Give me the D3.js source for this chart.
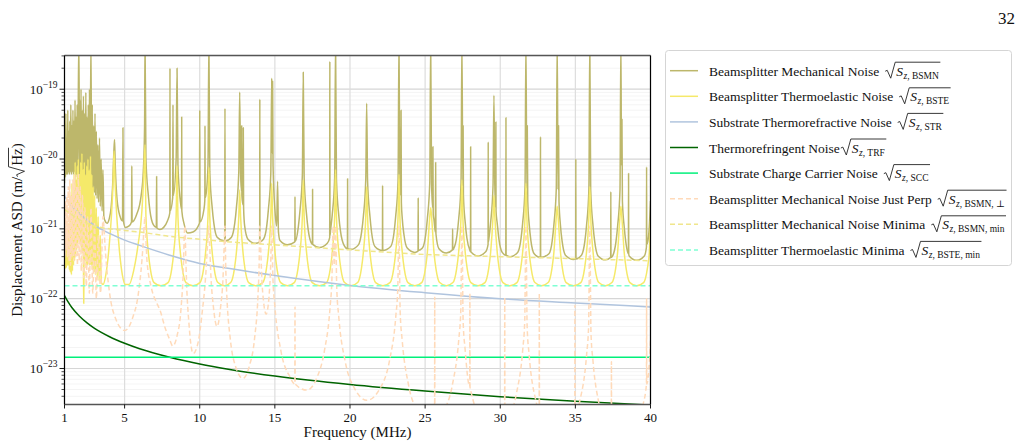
<!DOCTYPE html>
<html>
<head>
<meta charset="utf-8">
<script src="https://cdn.jsdelivr.net/npm/d3@7"></script>
<style>
  body { margin: 0; background: #fff; }
  svg text { font-family: "Liberation Serif", "DejaVu Serif", serif; fill: #111; }
</style>
</head>
<body>
<svg id="chart" width="1024" height="448"></svg>
<script>
// ---------------- data ----------------
const freqTicks = [1, 5, 10, 15, 20, 25, 30, 35, 40];
const decadeTicks = [-23, -22, -21, -20, -19];

// substrate thermorefractive noise
const strF = [1, 1.5, 2, 3, 4, 5, 6, 8, 10, 12, 15, 20, 25, 30, 35, 40];
const strV = [2.95e-21, 2.1e-21, 1.65e-21, 1.12e-21, 8.6e-22, 6.9e-22, 5.8e-22, 4.2e-22,
              3.2e-22, 2.7e-22, 2.15e-22, 1.55e-22, 1.22e-22, 1.0e-22, 8.7e-23, 7.6e-23];

// thermorefringent noise
const trfF = [1, 1.25, 1.5, 2, 2.5, 3, 4, 5, 6, 8, 10, 12, 15, 20, 25, 30, 35, 40];
const trfV = [1.11e-22, 8.9e-23, 7.4e-23, 5.6e-23, 4.5e-23, 3.75e-23, 2.85e-23, 2.3e-23, 1.92e-23,
              1.45e-23, 1.16e-23, 9.7e-24, 7.8e-24, 5.9e-24, 4.75e-24, 3.95e-24, 3.4e-24, 3.0e-24];

// substrate charge carrier noise (flat)
const sccF = [1, 40];
const sccV = [1.45e-23, 1.45e-23];

// thermoelastic minima (flat)
const bsteMinF = [1, 40];
const bsteMinV = [1.53e-22, 1.53e-22];

// mechanical noise minima
const bsmnMinF = [1, 2, 3, 4, 5, 6, 8, 10, 12, 15, 20, 25, 30, 35, 40];
const bsmnMinV = [1.9e-21, 1.35e-21, 1.1e-21, 1.0e-21, 9.5e-22, 9.0e-22, 7.8e-22, 7.1e-22,
                  6.5e-22, 5.9e-22, 5.0e-22, 4.3e-22, 4.0e-22, 3.75e-22, 3.48e-22];

// beamsplitter mechanical noise [MHz, m/sqrt(Hz)]
const bsmn = [
  [1.00,4.5e-21],[1.03,2.5e-20],[1.06,5.5e-21],[1.09,4.5e-20],[1.12,6.0e-21],[1.15,2.0e-20],[1.19,6.0e-21],
  [1.22,5.0e-20],[1.25,6.5e-21],[1.29,2.5e-20],[1.32,6.0e-21],[1.35,3.5e-20],[1.39,6.5e-21],[1.42,6.0e-20],
  [1.46,6.0e-21],[1.49,3.0e-20],[1.53,6.5e-21],[1.56,5.0e-20],[1.60,6.0e-21],[1.63,3.5e-20],[1.67,6.5e-21],
  [1.70,7.0e-20],[1.74,5.5e-21],[1.77,4.0e-20],[1.81,6.0e-21],[1.84,6.0e-20],[1.88,5.5e-21],[1.92,9.0e-20],
  [1.96,5e-19],[2.00,6.0e-21],[2.03,7.0e-20],[2.07,5.5e-21],[2.10,1.0e-19],[2.14,5.5e-21],[2.18,5.0e-20],
  [2.22,5.0e-21],[2.26,8.0e-20],[2.30,5.0e-21],[2.34,4.5e-20],[2.38,4.5e-21],[2.42,9.0e-20],[2.46,4.5e-21],
  [2.50,4.0e-20],[2.54,4.2e-21],[2.58,6.0e-20],[2.62,4.0e-21],[2.66,1.0e-19],[2.70,4.0e-21],[2.76,5e-19],
  [2.81,3.8e-21],[2.85,6.0e-20],[2.89,3.5e-21],[2.94,3.0e-20],[2.98,3.3e-21],[3.03,4.5e-20],[3.07,3.0e-21],
  [3.12,2.5e-20],[3.17,2.7e-21],[3.22,1.6e-20],[3.27,2.4e-21],[3.33,2.0e-20],[3.38,2.1e-21],[3.44,1.0e-20],
  [3.50,1.8e-21],[3.56,7.0e-21],[3.62,1.5e-21],[3.70,1.3e-21],[3.83,1.2e-21],[3.98,1.4e-21],[4.10,2.0e-21],
  [4.20,4.0e-21],[4.28,1.2e-20],[4.33,1.9e-20],[4.38,8.0e-21],[4.50,2.6e-21],[4.70,1.5e-21],[4.86,1.3e-21],
  [4.89,2.8e-20],[4.92,1.3e-21],[5.05,1.05e-21],[5.30,1.1e-21],[5.46,1.25e-21],[5.48,8e-21],[5.50,1.25e-21],
  [5.80,1.6e-21],[6.10,3.0e-21],[6.25,7.0e-21],[6.33,3.0e-20],[6.36,5e-19],
  [6.42,1e-20],[6.58,3e-21],[6.69,1.8e-21],[6.91,1.15e-21],[7.11,1.05e-21],[7.13,5.6e-21],[7.15,1.03e-21],
  [7.35,9.8e-22],[7.60,1.05e-21],[7.85,1.3e-21],[8.01,1.7e-21],[8.02,2e-19],[8.03,1.8e-21],[8.20,2.8e-21],
  [8.22,6e-20],[8.24,3e-21],[8.43,1e-20],[8.49,2e-19],
  [8.55,8.2e-21],[8.71,2.5e-21],[8.79,1.9e-21],[8.80,4e-20],[8.81,1.8e-21],[8.95,1.2e-21],[9.20,8.7e-22],
  [9.55,9e-22],[9.98,1.2e-21],[10.00,5e-20],[10.02,1.25e-21],[10.28,1.9e-21],[10.34,2.6e-21],[10.35,3e-20],
  [10.36,2.8e-21],[10.45,3.5e-21],[10.55,8.2e-21],[10.61,5e-19],
  [10.67,6.6e-21],[10.83,2e-21],[10.94,1.2e-21],[11.16,7.6e-22],[11.66,6.7e-22],[11.68,5.3e-20],[11.70,6.7e-22],
  [12.11,7.6e-22],[12.33,1.2e-21],[12.44,2e-21],[12.60,6.6e-21],[12.66,9.1e-20],
  [12.72,6.2e-21],[12.775,3.5e-21],[12.79,3e-20],[12.805,3e-21],[12.88,2.2e-21],[12.90,2.8e-20],[12.92,2e-21],
  [12.99,1.1e-21],[13.21,7.1e-22],[13.72,6.2e-22],[13.99,6.5e-22],[14.00,7.2e-20],[14.01,6.6e-22],
  [14.24,7.1e-22],[14.46,1.1e-21],[14.57,1.9e-21],[14.73,6.2e-21],[14.79,1.44e-19],
  [14.82,1.2e-20],[14.85,1.3e-19],[14.88,8e-21],[15.01,1.8e-21],[15.12,1.1e-21],[15.18,4.8e-21],[15.24,9e-22],
  [15.34,6.8e-22],[15.84,5.9e-22],[16.33,6.5e-22],[16.34,2.9e-21],[16.35,6.6e-22],[16.56,1.06e-21],
  [16.67,1.8e-21],[16.83,5.9e-21],[16.89,1.75e-19],
  [16.95,5.4e-21],[17.11,1.6e-21],[17.22,9.7e-22],[17.44,6.2e-22],[17.50,6e-22],[17.51,3.7e-21],[17.52,6e-22],
  [17.97,5.4e-22],[18.49,6.2e-22],[18.65,7.5e-22],[18.66,2.5e-19],[18.67,8e-22],[18.71,9.7e-22],
  [18.82,1.6e-21],[18.98,5.4e-21],[19.04,5e-19],
  [19.10,5.1e-21],[19.26,1.5e-21],[19.37,9.2e-22],[19.59,5.9e-22],[19.83,5.2e-22],[19.84,5.2e-21],[19.85,5.2e-22],
  [20.08,5.1e-22],[20.56,5.9e-22],[20.78,9.2e-22],[20.89,1.5e-21],[21.05,5.1e-21],[21.11,6.3e-20],
  [21.17,4.9e-21],[21.33,1.5e-21],[21.44,8.8e-22],[21.66,5.6e-22],[22.16,4.9e-22],[22.17,4.2e-21],[22.18,4.9e-22],
  [22.71,5.6e-22],[22.93,8.8e-22],[23.04,1.5e-21],[23.20,4.9e-21],[23.26,5e-19],
  [23.32,4.6e-21],[23.38,3e-21],[23.40,5e-20],[23.42,2.4e-21],[23.48,1.4e-21],[23.59,8.3e-22],[23.81,5.3e-22],
  [24.32,4.6e-22],[24.53,4.8e-22],[24.54,2.8e-21],[24.55,4.9e-22],[24.82,5.3e-22],[25.04,8.3e-22],
  [25.15,1.4e-21],[25.31,4.6e-21],[25.37,5e-19],
  [25.43,4.5e-21],[25.50,2e-21],[25.52,1.5e-20],[25.54,1.6e-21],[25.59,1.35e-21],[25.68,9e-22],[25.70,8.9e-21],
  [25.72,8.5e-22],[25.92,5.2e-22],[26.41,4.5e-22],[26.82,5e-22],[26.83,1e-21],[26.84,5e-22],[26.90,5.2e-22],
  [27.12,8.1e-22],[27.23,1.35e-21],[27.39,4.5e-21],[27.45,5e-19],
  [27.51,4.1e-21],[27.53,3e-20],[27.55,3e-21],[27.67,1.23e-21],[27.78,7.4e-22],[28.00,4.8e-22],[28.02,4.7e-22],
  [28.03,1.5e-20],[28.04,4.7e-22],[28.52,4.1e-22],[29.03,4.7e-22],[29.19,6e-22],[29.20,1.76e-20],[29.21,6.5e-22],
  [29.25,7.4e-22],[29.36,1.23e-21],[29.52,4.1e-21],[29.58,8.2e-20],
  [29.64,4e-21],[29.70,2e-21],[29.71,3.4e-20],[29.72,1.8e-21],[29.80,1.2e-21],[29.91,7.2e-22],[30.13,4.6e-22],
  [30.37,4.2e-22],[30.38,3.9e-20],[30.39,4.2e-22],[30.65,4e-22],[31.16,4.6e-22],[31.38,7.2e-22],[31.49,1.2e-21],
  [31.65,4e-21],[31.71,5e-19],
  [31.77,3.8e-21],[31.80,3e-20],[31.83,2.5e-21],[31.93,1.14e-21],[32.04,6.8e-22],[32.26,4.4e-22],[32.67,3.9e-22],
  [32.68,2.07e-20],[32.69,3.9e-22],[33.24,4.4e-22],[33.46,6.8e-22],[33.57,1.14e-21],[33.73,3.8e-21],[33.79,5e-19],
  [33.85,3.65e-21],[33.88,3e-20],[33.91,2.5e-21],[34.01,1.1e-21],[34.12,6.6e-22],[34.34,4.2e-22],[34.875,3.65e-22],
  [35.02,3.7e-22],[35.03,1e-20],[35.04,3.7e-22],[35.41,4.2e-22],[35.63,6.6e-22],[35.74,1.1e-21],[35.90,3.65e-21],
  [35.96,5e-19],
  [36.02,3.6e-21],[36.18,1.08e-21],[36.29,6.5e-22],[36.51,4.1e-22],[37.00,3.6e-22],[37.35,3.9e-22],[37.36,3.4e-21],
  [37.37,3.9e-22],[37.48,4.1e-22],[37.70,6.5e-22],[37.81,1.08e-21],[37.97,3.6e-21],[38.03,5e-19],
  [38.07,8e-21],[38.10,3.7e-20],[38.13,2.5e-21],[38.25,1.07e-21],[38.36,6.4e-22],[38.53,4.4e-22],[38.54,6.2e-21],
  [38.55,4.4e-22],[38.58,4.1e-22],[39.08,3.55e-22],[39.59,4.1e-22],[39.73,5.5e-22],[39.74,7.7e-21],[39.75,6e-22],
  [39.81,6.4e-22],[39.92,1.07e-21],[40.00,2.5e-21]
];

// beamsplitter thermoelastic noise
const bste = [
  [1.00,3.0e-22],[1.03,6.0e-22],[1.06,2.7e-22],[1.09,8.0e-22],[1.12,2.8e-22],[1.15,5.5e-22],[1.19,3.0e-22],
  [1.22,9.0e-22],[1.25,3.0e-22],[1.29,1.2e-21],[1.32,2.6e-22],[1.36,2.0e-21],[1.39,2.4e-22],[1.43,3.0e-21],
  [1.46,2.2e-22],[1.50,4.5e-21],[1.53,2.5e-22],[1.57,2.5e-21],[1.60,3.0e-22],[1.64,6.0e-21],[1.67,3.5e-22],
  [1.71,9.0e-21],[1.74,4.0e-22],[1.78,5.0e-21],[1.81,5.0e-22],[1.85,8.0e-21],[1.88,6.0e-22],[1.92,1.0e-20],
  [1.96,7.0e-22],[2.00,6.0e-21],[2.04,6.0e-22],[2.08,9.0e-21],[2.12,5.0e-22],[2.16,1.2e-20],[2.20,4.5e-22],
  [2.24,7.0e-21],[2.27,1.5e-22],[2.28,8.5e-23],[2.29,1.5e-22],[2.32,9.0e-21],[2.36,3.5e-22],[2.40,6.0e-21],
  [2.44,3.0e-22],[2.48,8.0e-21],[2.52,3.0e-22],[2.56,1.0e-20],[2.60,3.5e-22],[2.64,7.0e-21],[2.68,3.0e-22],
  [2.73,1.1e-20],[2.78,3.0e-22],[2.82,6.0e-21],[2.86,2.6e-22],[2.91,4.0e-21],[2.96,2.4e-22],[3.01,3.0e-21],
  [3.06,2.2e-22],[3.12,2.0e-21],[3.18,2.0e-22],[3.24,1.5e-21],[3.30,1.8e-22],[3.38,8e-22],[3.45,1.7e-22],
  [3.56,1.6e-22],[3.75,2.2e-22],[3.95,5e-22],[4.12,1.5e-21],[4.24,5e-21],[4.30,1.3e-20],[4.36,5e-21],
  [4.48,1.5e-21],[4.65,5e-22],[4.85,2.2e-22],[5.05,1.6e-22],[5.30,1.6e-22],[5.60,2.5e-22],[5.90,6e-22],
  [6.15,1.8e-21],[6.28,6e-21],[6.36,1.6e-20],
  [6.42,1.5e-21],[6.58,4.6e-22],[6.71,2.7e-22],[6.96,1.7e-22],[7.42,1.53e-22],[7.89,1.7e-22],[8.14,2.7e-22],[8.27,4.6e-22],[8.43,1.5e-21],[8.49,8e-21],
  [8.55,1.5e-21],[8.71,4.6e-22],[8.84,2.7e-22],[9.09,1.7e-22],[9.55,1.53e-22],[10.01,1.7e-22],[10.26,2.7e-22],[10.39,4.6e-22],[10.55,1.5e-21],[10.61,7.7e-21],
  [10.67,1.5e-21],[10.83,4.6e-22],[10.96,2.7e-22],[11.21,1.7e-22],[11.64,1.53e-22],[12.06,1.7e-22],[12.31,2.7e-22],[12.44,4.6e-22],[12.60,1.5e-21],[12.66,3.6e-21],
  [12.72,1.5e-21],[12.88,4.6e-22],[13.01,2.7e-22],[13.26,1.7e-22],[13.73,1.53e-22],[14.19,1.7e-22],[14.44,2.7e-22],[14.57,4.6e-22],[14.73,1.5e-21],[14.79,4.5e-21],
  [14.85,1.5e-21],[15.01,4.6e-22],[15.14,2.7e-22],[15.39,1.7e-22],[15.84,1.53e-22],[16.29,1.7e-22],[16.54,2.7e-22],[16.67,4.6e-22],[16.83,1.5e-21],[16.89,5e-21],
  [16.95,1.5e-21],[17.11,4.6e-22],[17.24,2.7e-22],[17.49,1.7e-22],[17.97,1.53e-22],[18.44,1.7e-22],[18.69,2.7e-22],[18.82,4.6e-22],[18.98,1.5e-21],[19.04,7e-21],
  [19.10,1.5e-21],[19.26,4.6e-22],[19.39,2.7e-22],[19.64,1.7e-22],[20.08,1.53e-22],[20.51,1.7e-22],[20.76,2.7e-22],[20.89,4.6e-22],[21.05,1.5e-21],[21.11,4e-21],
  [21.17,1.5e-21],[21.33,4.6e-22],[21.46,2.7e-22],[21.71,1.7e-22],[22.19,1.53e-22],[22.66,1.7e-22],[22.91,2.7e-22],[23.04,4.6e-22],[23.20,1.5e-21],[23.26,6e-21],
  [23.32,1.5e-21],[23.48,4.6e-22],[23.61,2.7e-22],[23.86,1.7e-22],[24.32,1.53e-22],[24.77,1.7e-22],[25.02,2.7e-22],[25.15,4.6e-22],[25.31,1.5e-21],[25.37,2e-21],
  [25.43,1.5e-21],[25.59,4.6e-22],[25.72,2.7e-22],[25.97,1.7e-22],[26.41,1.53e-22],[26.85,1.7e-22],[27.10,2.7e-22],[27.23,4.6e-22],[27.39,1.5e-21],[27.45,5e-21],
  [27.51,1.5e-21],[27.67,4.6e-22],[27.80,2.7e-22],[28.05,1.7e-22],[28.52,1.53e-22],[28.98,1.7e-22],[29.23,2.7e-22],[29.36,4.6e-22],[29.52,1.5e-21],[29.58,3e-21],
  [29.64,1.5e-21],[29.80,4.6e-22],[29.93,2.7e-22],[30.18,1.7e-22],[30.65,1.53e-22],[31.11,1.7e-22],[31.36,2.7e-22],[31.49,4.6e-22],[31.65,1.5e-21],[31.71,4.5e-21],
  [31.77,1.5e-21],[31.93,4.6e-22],[32.06,2.7e-22],[32.31,1.7e-22],[32.75,1.53e-22],[33.19,1.7e-22],[33.44,2.7e-22],[33.57,4.6e-22],[33.73,1.5e-21],[33.79,2.1e-21],
  [33.85,1.5e-21],[34.01,4.6e-22],[34.14,2.7e-22],[34.39,1.7e-22],[34.88,1.53e-22],[35.36,1.7e-22],[35.61,2.7e-22],[35.74,4.6e-22],[35.90,1.5e-21],[35.96,4e-21],
  [36.02,1.5e-21],[36.18,4.6e-22],[36.31,2.7e-22],[36.56,1.7e-22],[37.00,1.53e-22],[37.43,1.7e-22],[37.68,2.7e-22],[37.81,4.6e-22],[37.97,1.5e-21],[38.03,2.1e-21],
  [38.09,1.5e-21],[38.25,4.6e-22],[38.38,2.7e-22],[38.63,1.7e-22],[39.08,1.53e-22],[39.54,1.7e-22],[39.79,2.7e-22],[39.92,4.6e-22],[40.00,1.3e-21]
];

// mechanical noise, perpendicular part only
const perp = [
  [1.00,1.5e-21],[1.04,4e-22],[1.08,2.5e-21],[1.12,5e-22],[1.16,3e-21],[1.20,4e-22],[1.25,4e-21],[1.30,3.5e-22],
  [1.35,5e-21],[1.40,3e-22],[1.45,3e-21],[1.50,4e-22],[1.56,5e-21],[1.62,3.5e-22],[1.68,6e-21],[1.74,4e-22],
  [1.80,4e-21],[1.86,3e-22],[1.92,6e-21],[1.98,3.5e-22],[2.05,4e-21],[2.12,2.5e-22],[2.20,3e-21],[2.28,2e-22],
  [2.36,2e-21],[2.45,1.5e-22],[2.55,1.5e-21],[2.65,1.2e-22],[2.76,2e-21],[2.88,1.2e-22],[3.00,1.2e-21],
  [3.12,1e-22],[3.25,8e-22],[3.40,1.2e-22],[3.50,6e-22],[3.56,1.5e-21],
  [3.62,1.1e-21],[3.70,5.6e-22],[3.98,1.3e-22],[4.40,5.2e-23],[5.00,3.5e-23],[5.52,5.2e-23],[5.94,1.3e-22],
  [6.22,5.6e-22],[6.30,1.1e-21],[6.36,1.5e-21],
  [6.41,8e-22],[6.49,3.5e-22],[6.76,1.5e-22],[7.16,8.5e-23],[7.35,6.9e-23],[7.70,3.8e-23],[8.00,2.6e-23],
  [8.20,2.1e-23],[8.50,3e-23],[8.75,7e-23],[8.92,3.2e-22],[8.97,8e-22],[9.02,1.1e-21],
  [9.06,5e-22],[9.12,1.8e-22],[9.28,4.5e-23],[9.56,1.64e-23],[9.90,2.4e-23],[10.15,6e-23],[10.40,2.2e-22],
  [10.52,6e-22],[10.61,1.1e-21],
  [10.66,6e-22],[10.75,2e-22],[10.90,8e-23],[11.15,4e-23],[11.40,8e-23],[11.55,2e-22],[11.63,6e-22],[11.68,1.1e-21],
  [11.73,2.9e-22],[11.80,1.15e-22],[12.03,2.7e-23],[12.38,1.08e-23],[12.88,7.2e-24],[13.30,1.08e-23],[13.65,2.7e-23],
  [13.88,1.15e-22],[13.95,2.9e-22],[14.00,1.1e-21],
  [14.05,6e-22],[14.13,2e-22],[14.25,9e-23],[14.42,6e-23],[14.60,1e-22],[14.72,3e-22],[14.79,1.1e-21],
  [14.87,2e-22],[15.00,7.8e-23],[15.40,1.8e-23],[16.00,7.6e-24],[16.33,6e-24],[16.34,7.6e-23],[16.35,6e-24],
  [17.13,4.9e-24],[17.80,7.4e-24],[18.30,1.8e-23],[18.68,7.8e-23],[18.80,2e-22],[18.88,1.1e-21],[18.95,3e-22],
  [19.04,1.1e-21],
  [19.12,1.4e-22],[19.25,5.6e-23],[19.67,1.3e-23],[20.30,5.2e-24],[21.13,3.5e-24],[22.00,5.2e-24],[22.63,1.3e-23],
  [23.05,5.6e-23],[23.18,1.4e-22],[23.26,1.1e-21],
  [23.34,6.4e-23],[23.47,2.6e-23],[23.89,5.9e-24],[24.52,2.4e-24],[25.35,1.6e-24],[25.63,1.8e-24],[25.64,1.05e-22],
  [25.65,1.8e-24],[26.20,2.4e-24],[26.82,5.9e-24],[27.24,2.6e-23],[27.37,6.4e-23],[27.45,1.1e-21],
  [27.53,4.8e-23],[27.66,1.9e-23],[27.97,5.5e-24],[27.98,1.2e-22],[27.99,5.4e-24],[28.08,4.4e-24],[28.70,1.8e-24],
  [29.58,1.2e-24],[30.29,1.6e-24],[30.30,1.05e-22],[30.31,1.6e-24],[30.45,1.8e-24],[31.08,4.4e-24],[31.50,1.9e-23],
  [31.63,4.8e-23],[31.71,1.1e-21],
  [31.79,4e-23],[31.92,1.6e-23],[32.34,3.7e-24],[32.59,2.5e-24],[32.60,1.2e-22],[32.61,2.5e-24],[32.97,1.5e-24],
  [33.80,1e-24],[34.70,1.5e-24],[34.96,2.2e-24],[34.97,8e-23],[34.98,2.3e-24],[35.33,3.7e-24],[35.75,1.6e-23],
  [35.88,4e-23],[35.96,1.1e-21],
  [36.04,3.2e-23],[36.17,1.3e-23],[36.59,3e-24],[37.22,1.2e-24],[37.39,1.1e-24],[37.40,1.25e-23],[37.41,1.1e-24],
  [38.05,8e-25],[38.90,1.2e-24],[39.50,3e-24],[39.73,6e-24],[39.74,1e-22],[39.75,6e-24],[39.93,1.3e-23],[40.00,2.5e-23]
];

const legendItems = [
  { label: "Beamsplitter Mechanical Noise", sub: "BSMN", gap: 6, color: "#bdb76b", dash: null },
  { label: "Beamsplitter Thermoelastic Noise", sub: "BSTE", gap: 6, color: "#f5e96a", dash: null },
  { label: "Substrate Thermorefractive Noise", sub: "STR", gap: 6, color: "#b0c4de", dash: null },
  { label: "Thermorefringent Noise", sub: "TRF", gap: 1, color: "#006400", dash: null },
  { label: "Substrate Charge Carrier Noise", sub: "SCC", gap: 6, color: "#00f07a", dash: null },
  { label: "Beamsplitter Mechanical Noise Just Perp", sub: "BSMN, \u22a5", gap: 6, color: "#ffdab9", dash: "5,3" },
  { label: "Beamsplitter Mechanical Noise Minima", sub: "BSMN, min", gap: 6, color: "#f0e68c", dash: "5,3" },
  { label: "Beamsplitter Thermoelastic Minima", sub: "BSTE, min", gap: 6, color: "#7fffd4", dash: "5,3" }
];

// ---------------- chart ----------------
const svg = d3.select("#chart");
const pL = 64.5, pR = 650.5, pT = 55.5, pB = 404.5;

const x = d3.scaleLinear().domain([1, 40]).range([pL, pR]);
const y = d3.scaleLog().domain([3.05e-24, 3.04e-19]).range([pB, pT]);

svg.append("rect").attr("width", 1024).attr("height", 448).attr("fill", "#fff");

svg.append("defs").append("clipPath").attr("id", "plotclip")
  .append("rect")
  .attr("x", pL).attr("y", pT)
  .attr("width", pR - pL).attr("height", pB - pT);

// grid
const minorTicks = y.ticks().filter(v => Math.abs(Math.log10(v) - Math.round(Math.log10(v))) > 1e-6);
const grid = svg.append("g");
grid.selectAll(".minor").data(minorTicks).join("line")
  .attr("x1", pL).attr("x2", pR)
  .attr("y1", d => y(d)).attr("y2", d => y(d))
  .attr("stroke", "#f1f1f1").attr("stroke-width", 0.8);
grid.selectAll(".major").data(decadeTicks).join("line")
  .attr("x1", pL).attr("x2", pR)
  .attr("y1", d => y(Math.pow(10, d))).attr("y2", d => y(Math.pow(10, d)))
  .attr("stroke", "#d6d6d6").attr("stroke-width", 1.2);
grid.selectAll(".vert").data(freqTicks).join("line")
  .attr("x1", d => x(d)).attr("x2", d => x(d))
  .attr("y1", pT).attr("y2", pB)
  .attr("stroke", "#dddddd").attr("stroke-width", 1.2);

// curves
const line = d3.line().x(d => x(d[0])).y(d => y(d[1])).curve(d3.curveMonotoneX);
const zip = (f, v) => f.map((d, i) => [d, v[i]]);

const curves = svg.append("g").attr("clip-path", "url(#plotclip)");
const series = [
  { data: bsmn, item: legendItems[0] },
  { data: bste, item: legendItems[1] },
  { data: zip(strF, strV), item: legendItems[2] },
  { data: zip(trfF, trfV), item: legendItems[3] },
  { data: zip(sccF, sccV), item: legendItems[4] },
  { data: perp, item: legendItems[5] },
  { data: zip(bsmnMinF, bsmnMinV), item: legendItems[6] },
  { data: zip(bsteMinF, bsteMinV), item: legendItems[7] }
];
series.forEach(s => {
  curves.append("path")
    .attr("d", line(s.data))
    .attr("fill", "none")
    .attr("stroke", s.item.color)
    .attr("stroke-width", 1.5)
    .attr("stroke-linejoin", "round")
    .attr("stroke-dasharray", s.item.dash);
});

// spines
svg.append("line").attr("x1", pL).attr("x2", pR).attr("y1", pT).attr("y2", pT)
  .attr("stroke", "#555").attr("stroke-width", 1.6);
svg.append("line").attr("x1", pL).attr("x2", pR).attr("y1", pB).attr("y2", pB)
  .attr("stroke", "#555").attr("stroke-width", 1.6);
svg.append("line").attr("x1", pL).attr("x2", pL).attr("y1", pT).attr("y2", pB)
  .attr("stroke", "#000").attr("stroke-width", 1.2);
svg.append("line").attr("x1", pR).attr("x2", pR).attr("y1", pT).attr("y2", pB)
  .attr("stroke", "#000").attr("stroke-width", 1.2);

// y ticks
const axes = svg.append("g");
axes.selectAll(".ymin").data(minorTicks).join("line")
  .attr("x1", pL - 3).attr("x2", pL)
  .attr("y1", d => y(d)).attr("y2", d => y(d))
  .attr("stroke", "#000").attr("stroke-width", 0.7);
axes.selectAll(".ymaj").data(decadeTicks).join("line")
  .attr("x1", pL - 5).attr("x2", pL)
  .attr("y1", d => y(Math.pow(10, d))).attr("y2", d => y(Math.pow(10, d)))
  .attr("stroke", "#000").attr("stroke-width", 0.9);
const ylab = axes.selectAll(".ylab").data(decadeTicks).join("text")
  .attr("x", pL - 7).attr("y", d => y(Math.pow(10, d)) + 4.5)
  .attr("text-anchor", "end").attr("font-size", 13);
ylab.append("tspan").text("10");
ylab.append("tspan").attr("dy", -6).attr("font-size", 9.5).text(d => "\u2212" + Math.abs(d));

// x ticks
axes.selectAll(".xt").data(freqTicks).join("line")
  .attr("x1", d => x(d)).attr("x2", d => x(d))
  .attr("y1", pB).attr("y2", pB + 4)
  .attr("stroke", "#000").attr("stroke-width", 0.9);
axes.selectAll(".xl").data(freqTicks).join("text")
  .attr("x", d => x(d)).attr("y", pB + 17)
  .attr("text-anchor", "middle").attr("font-size", 13)
  .text(d => d);

svg.append("text").attr("x", (pL + pR) / 2).attr("y", 437)
  .attr("text-anchor", "middle").attr("font-size", 15)
  .text("Frequency (MHz)");

// radical sign with overline
function radical(g, x0, yb, xEnd, h) {
  g.append("path")
    .attr("d", `M${x0},${yb - h * 0.33} L${x0 + 2},${yb - h * 0.4} L${x0 + 5.5},${yb + 2.5} L${x0 + 10},${yb - h} L${xEnd},${yb - h}`)
    .attr("fill", "none").attr("stroke", "#222").attr("stroke-width", 0.9);
}

// y label (rotated)
const yl = svg.append("g").attr("transform", `translate(22,${(pT + pB) / 2}) rotate(-90)`);
const p1 = yl.append("text").attr("font-size", 15).text("Displacement ASD (m/");
const w1 = p1.node().getComputedTextLength();
const p2 = yl.append("text").attr("font-size", 15).text("Hz");
const w2 = p2.node().getComputedTextLength();
const p3 = yl.append("text").attr("font-size", 15).text(")");
const w3 = p3.node().getComputedTextLength();
const total = w1 + 11 + w2 + w3;
const sx = -total / 2;
p1.attr("x", sx);
radical(yl, sx + w1, 0, sx + w1 + 11 + w2 + 0.5, 13.5);
p2.attr("x", sx + w1 + 11);
p3.attr("x", sx + w1 + 11 + w2);

// page number
svg.append("text").attr("x", 1015).attr("y", 24).attr("text-anchor", "end")
  .attr("font-size", 17).text("32");

// legend
const lg = svg.append("g");
lg.append("rect").attr("x", 665.5).attr("y", 50.5).attr("width", 346).attr("height", 215)
  .attr("rx", 3).attr("fill", "#fff").attr("stroke", "#d5d5d5").attr("stroke-width", 1);
legendItems.forEach((it, i) => {
  const cy = 70.7 + i * 25.6;
  const yb = cy + 5;
  lg.append("line").attr("x1", 670).attr("x2", 698).attr("y1", cy).attr("y2", cy)
    .attr("stroke", it.color).attr("stroke-width", 1.5).attr("stroke-dasharray", it.dash);
  const t = lg.append("text").attr("x", 709).attr("y", yb).attr("font-size", 13.5).text(it.label);
  const rx = 709 + t.node().getComputedTextLength() + it.gap;
  const s = lg.append("text").attr("x", rx + 11).attr("y", yb).attr("font-size", 13.5)
    .attr("font-style", "italic").text("S");
  const sw = s.node().getComputedTextLength();
  const sub = lg.append("text").attr("x", rx + 11 + sw + 0.5).attr("y", yb + 3).attr("font-size", 9.5);
  sub.append("tspan").attr("font-style", "italic").text("z");
  sub.append("tspan").text(", " + it.sub);
  const subw = sub.node().getComputedTextLength();
  radical(lg, rx, yb, rx + 11 + sw + 0.5 + subw + 1.5, 13.5);
});
</script>
</body>
</html>
